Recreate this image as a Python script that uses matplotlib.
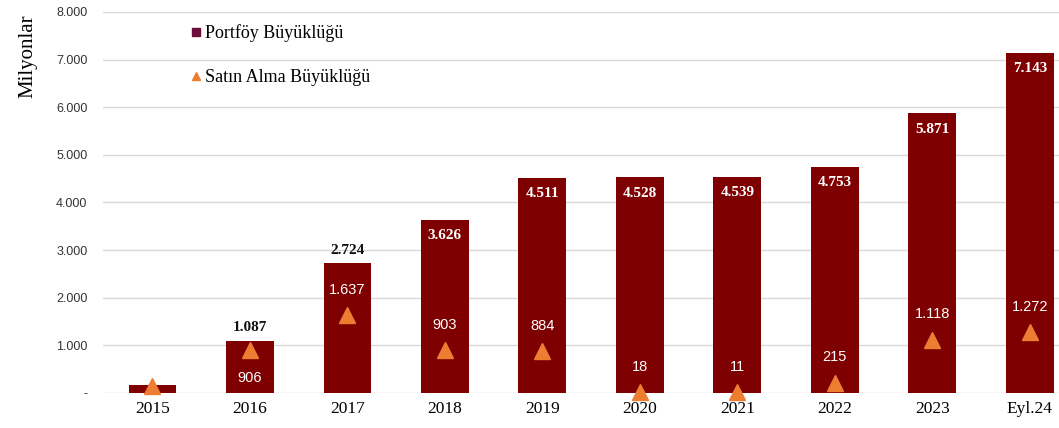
import matplotlib
matplotlib.use("Agg")
import matplotlib.pyplot as plt
from matplotlib.lines import Line2D

categories = ["2015", "2016", "2017", "2018", "2019", "2020", "2021", "2022", "2023", "Eyl.24"]
portfoy = [170, 1087, 2724, 3626, 4511, 4528, 4539, 4753, 5871, 7143]
satin_alma = [150, 906, 1637, 903, 884, 18, 11, 215, 1118, 1272]
yticks = [0, 1000, 2000, 3000, 4000, 5000, 6000, 7000, 8000]
ytick_labels = ["-", "1.000", "2.000", "3.000", "4.000", "5.000", "6.000", "7.000", "8.000"]

def fmt(v):
    return f"{v:,}".replace(",", ".")

bar_color = "#7F0000"
tri_color = "#ED7D31"
serif = "Liberation Serif"
sans = "Liberation Sans"

fig = plt.figure(figsize=(10.59, 4.28), dpi=100)
ax = fig.add_axes([0.097, 0.082, 0.903, 0.89])
x = list(range(len(categories)))
ax.bar(x, portfoy, width=0.49, color=bar_color, zorder=2)
ax.plot(x, satin_alma, linestyle="none", marker="^", markersize=11,
        color=tri_color, zorder=3, clip_on=False)

ax.set_xlim(-0.51, 9.3)
ax.set_ylim(0, 8000)
ax.set_yticks(yticks)
ax.set_yticklabels(ytick_labels, fontfamily=sans, fontsize=9, color="#333333")
ax.set_xticks(x)
ax.set_xticklabels(categories, fontfamily=serif, fontsize=12.5)
ax.tick_params(axis="y", length=0, pad=11)
ax.tick_params(axis="x", length=0, pad=6)
ax.grid(axis="y", color="#D9D9D9", linewidth=1, zorder=0)
for s in ax.spines.values():
    s.set_visible(False)
ax.set_ylabel("Milyonlar", fontfamily=serif, fontsize=15)
ax.yaxis.set_label_coords(-0.068, 0.885)

# portfolio labels
for i, v in enumerate(portfoy):
    if i == 0:
        continue
    if i in (1, 2):
        ax.text(i, v + 140, fmt(v), ha="center", va="bottom", fontfamily=serif,
                fontsize=11, fontweight="bold", color="#111111", zorder=4)
    else:
        ax.text(i, v - 330, fmt(v), ha="center", va="center", fontfamily=serif,
                fontsize=11, fontweight="bold", color="white", zorder=4)

# purchase labels
for i, v in enumerate(satin_alma):
    if i == 0:
        continue
    if i == 1:
        ax.text(i, v - 600, fmt(v), ha="center", va="center", fontfamily=sans,
                fontsize=10.5, color="white", zorder=4)
    else:
        ax.text(i, v + 530, fmt(v), ha="center", va="center", fontfamily=sans,
                fontsize=10.5, color="white", zorder=4)

handles = [
    Line2D([0], [0], marker="s", linestyle="none", color="#6B0F3A", markersize=6),
    Line2D([0], [0], marker="^", linestyle="none", color=tri_color, markersize=6),
]
leg = ax.legend(handles, ["Portföy Büyüklüğü", "Satın Alma Büyüklüğü"],
                loc="upper left", bbox_to_anchor=(0.073, 1.01), frameon=False,
                prop={"family": serif, "size": 13}, handletextpad=0.1,
                labelspacing=1.5, handlelength=0.8)

fig.savefig("out.png", dpi=100)
